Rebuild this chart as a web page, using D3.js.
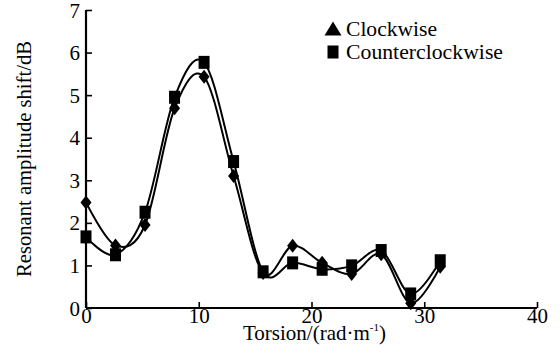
<!DOCTYPE html>
<html>
<head>
<meta charset="utf-8">
<script src="https://cdn.jsdelivr.net/npm/d3@7"></script>
</head>
<body style="margin:0">
<svg id="chart" width="560" height="357"></svg>
<script>
// torsion steps (rad/m) and resonant amplitude shift (dB)
const torsion = [0, 2.618, 5.236, 7.854, 10.472, 13.09, 15.708, 18.326, 20.944, 23.562, 26.18, 28.798, 31.416]
const clockwise = [2.48, 1.47, 1.95, 4.69, 5.43, 3.1, 0.82, 1.46, 1.06, 0.8, 1.26, 0.11, 0.97]
const counterclockwise = [1.67, 1.25, 2.25, 4.95, 5.77, 3.44, 0.85, 1.06, 0.91, 0.99, 1.35, 0.33, 1.11]
const xTicks = [0, 10, 20, 30, 40]
const yTicks = [0, 1, 2, 3, 4, 5, 6, 7]
const seriesNames = ["Clockwise", "Counterclockwise"]

let svg = d3.select("#chart")

let plotLeft = 86, plotRight = 537, plotTop = 10, plotBottom = 308

let x = d3.scaleLinear().domain([0, 40]).range([plotLeft, plotRight])
let y = d3.scaleLinear().domain([0, 7]).range([plotBottom, plotTop])

function serif(sel, size) {
  return sel.style("font-family", "'Liberation Serif'").style("font-size", size + "px").attr("fill", "#000")
}

// custom marker shapes
const diamond = { draw(ctx, size) {
  let w = 5.5, h = 7
  ctx.moveTo(0, -h); ctx.lineTo(w, 0); ctx.lineTo(0, h); ctx.lineTo(-w, 0); ctx.closePath()
}}
const square = { draw(ctx, size) {
  ctx.rect(-5.5, -6.5, 11, 13)
}}
const triangle = { draw(ctx, size) {
  ctx.moveTo(0, -7.5); ctx.lineTo(8.5, 6.5); ctx.lineTo(-8.5, 6.5); ctx.closePath()
}}

// axes
let xAxis = d3.axisBottom(x).tickValues(xTicks).tickFormat(d3.format("d")).tickSize(-6).tickPadding(10)
let yAxis = d3.axisLeft(y).tickValues(yTicks).tickFormat(d3.format("d")).tickSize(-6).tickPadding(6)

let gx = svg.append("g").attr("transform", "translate(0," + plotBottom + ")").call(xAxis)
let gy = svg.append("g").attr("transform", "translate(" + plotLeft + ",0)").call(yAxis)

for (let g of [gx, gy]) {
  g.attr("font-family", null).attr("font-size", null)
  g.select(".domain").attr("stroke", "#000").attr("stroke-width", 2.2)
  g.selectAll(".tick line").attr("stroke", "#000").attr("stroke-width", 1.6)
  serif(g.selectAll(".tick text"), 21)
}
gx.selectAll(".tick text").attr("dy", "0.7em").attr("y", 0)
gy.selectAll(".tick text").attr("dy", "0.34em")
gx.select(".domain").attr("d", "M" + plotLeft + ",0H" + plotRight)
gy.select(".domain").attr("d", "M0," + plotBottom + "V" + plotTop)

// axis titles
let xt = serif(svg.append("text"), 21)
    .attr("x", 243).attr("y", 340)
xt.append("tspan").text("Torsion/(rad\u00b7m")
xt.append("tspan").text("-1").style("font-size", "11px").attr("dy", -9)
xt.append("tspan").text(")").attr("dy", 9)

serif(svg.append("text"), 21)
    .attr("transform", "translate(31,159) rotate(-90)")
    .attr("text-anchor", "middle")
    .attr("textLength", 236)
    .attr("lengthAdjust", "spacingAndGlyphs")
    .text("Resonant amplitude shift/dB")

// smoothed series lines
let line = d3.line()
    .x((d, i) => x(torsion[i]))
    .y(d => y(d))
    .curve(d3.curveCardinal.tension(0))

let series = [
  { name: seriesNames[0], values: clockwise, marker: diamond },
  { name: seriesNames[1], values: counterclockwise, marker: square }
]

for (let s of series) {
  svg.append("path")
      .attr("d", line(s.values))
      .attr("fill", "none")
      .attr("stroke", "#000")
      .attr("stroke-width", 2)
}

for (let s of series) {
  svg.append("g").selectAll("path")
      .data(s.values)
      .enter().append("path")
      .attr("transform", (d, i) => "translate(" + x(torsion[i]) + "," + y(d) + ")")
      .attr("d", d3.symbol().type(s.marker))
      .attr("fill", "#000")
}

// legend
let legend = svg.append("g")
let legendMarkers = [triangle, square]
let legendWidths = [91, 157]
seriesNames.forEach((name, i) => {
  let ly = 29 + i * 23
  legend.append("path")
      .attr("transform", "translate(333," + ly + ")")
      .attr("d", d3.symbol().type(legendMarkers[i]))
      .attr("fill", "#000")
  serif(legend.append("text"), 21)
      .attr("x", 346).attr("y", ly + 6.5)
      .attr("textLength", legendWidths[i])
      .attr("lengthAdjust", "spacingAndGlyphs")
      .text(name)
})
</script>
</body>
</html>
